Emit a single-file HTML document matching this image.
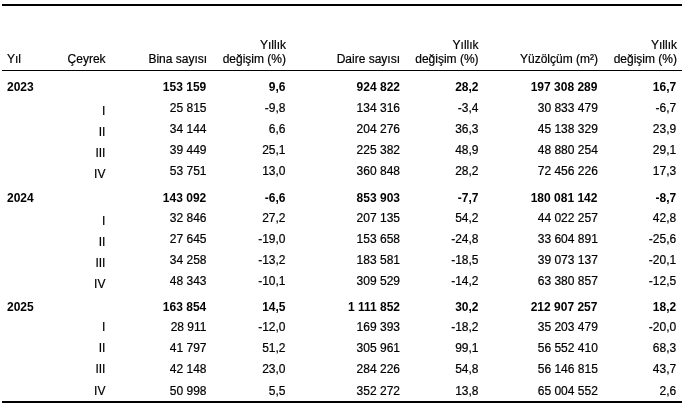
<!DOCTYPE html>
<html><head><meta charset="utf-8"><title>Tablo</title>
<style>
html,body{margin:0;padding:0;background:#fff;}
body{width:683px;height:417px;position:relative;overflow:hidden;font-family:"Liberation Sans",Arial,sans-serif;font-size:12px;color:#000;}
.t{-webkit-text-stroke:0.2px #000;position:absolute;white-space:nowrap;line-height:14px;height:14px;}
.r{text-align:right;}
.b{font-weight:bold;-webkit-text-stroke:0;}
.ln{position:absolute;background:#000;}
</style></head><body>

<div class="ln" style="left:2px;top:4px;width:680px;height:2px"></div>
<div class="ln" style="left:2px;top:70px;width:680px;height:1px"></div>
<div class="ln" style="left:2px;top:401px;width:680px;height:2px"></div>
<div class="t" style="left:7px;top:52px">Yıl</div>
<div class="t" style="left:67.6px;top:52px">Çeyrek</div>
<div class="t r" style="right:475.9px;top:52px">Bina sayısı</div>
<div class="t r" style="right:397px;top:38px">Yıllık</div>
<div class="t r" style="right:397px;top:52px">değişim (%)</div>
<div class="t r" style="right:283px;top:52px">Daire sayısı</div>
<div class="t r" style="right:204.4px;top:38px">Yıllık</div>
<div class="t r" style="right:204.4px;top:52px">değişim (%)</div>
<div class="t r" style="right:85px;top:52px">Yüzölçüm (m²)</div>
<div class="t r" style="right:6px;top:38px">Yıllık</div>
<div class="t r" style="right:6px;top:52px">değişim (%)</div>
<div class="t b" style="left:7px;top:80px">2023</div>
<div class="t b r" style="right:476.75px;top:80px">153 159</div>
<div class="t b r" style="right:397.5px;top:80px">9,6</div>
<div class="t b r" style="right:283px;top:80px">924 822</div>
<div class="t b r" style="right:204.5px;top:80px">28,2</div>
<div class="t b r" style="right:85.6px;top:80px">197 308 289</div>
<div class="t b r" style="right:6.8px;top:80px">16,7</div>
<div class="t r" style="right:577.6px;top:104px">I</div>
<div class="t r" style="right:476.5px;top:101px">25 815</div>
<div class="t r" style="right:397.5px;top:101px">-9,8</div>
<div class="t r" style="right:283px;top:101px">134 316</div>
<div class="t r" style="right:204.5px;top:101px">-3,4</div>
<div class="t r" style="right:85.2px;top:101px">30 833 479</div>
<div class="t r" style="right:6.8px;top:101px">-6,7</div>
<div class="t r" style="right:577.6px;top:125px">II</div>
<div class="t r" style="right:476.5px;top:122px">34 144</div>
<div class="t r" style="right:397.5px;top:122px">6,6</div>
<div class="t r" style="right:283px;top:122px">204 276</div>
<div class="t r" style="right:204.5px;top:122px">36,3</div>
<div class="t r" style="right:85.2px;top:122px">45 138 329</div>
<div class="t r" style="right:6.8px;top:122px">23,9</div>
<div class="t r" style="right:577.6px;top:146px">III</div>
<div class="t r" style="right:476.5px;top:143px">39 449</div>
<div class="t r" style="right:397.5px;top:143px">25,1</div>
<div class="t r" style="right:283px;top:143px">225 382</div>
<div class="t r" style="right:204.5px;top:143px">48,9</div>
<div class="t r" style="right:85.2px;top:143px">48 880 254</div>
<div class="t r" style="right:6.8px;top:143px">29,1</div>
<div class="t r" style="right:577.6px;top:167px">IV</div>
<div class="t r" style="right:476.5px;top:164px">53 751</div>
<div class="t r" style="right:397.5px;top:164px">13,0</div>
<div class="t r" style="right:283px;top:164px">360 848</div>
<div class="t r" style="right:204.5px;top:164px">28,2</div>
<div class="t r" style="right:85.2px;top:164px">72 456 226</div>
<div class="t r" style="right:6.8px;top:164px">17,3</div>
<div class="t b" style="left:7px;top:191px">2024</div>
<div class="t b r" style="right:476.75px;top:191px">143 092</div>
<div class="t b r" style="right:397.5px;top:191px">-6,6</div>
<div class="t b r" style="right:283px;top:191px">853 903</div>
<div class="t b r" style="right:204.5px;top:191px">-7,7</div>
<div class="t b r" style="right:85.6px;top:191px">180 081 142</div>
<div class="t b r" style="right:6.8px;top:191px">-8,7</div>
<div class="t r" style="right:577.6px;top:214px">I</div>
<div class="t r" style="right:476.5px;top:211px">32 846</div>
<div class="t r" style="right:397.5px;top:211px">27,2</div>
<div class="t r" style="right:283px;top:211px">207 135</div>
<div class="t r" style="right:204.5px;top:211px">54,2</div>
<div class="t r" style="right:85.2px;top:211px">44 022 257</div>
<div class="t r" style="right:6.8px;top:211px">42,8</div>
<div class="t r" style="right:577.6px;top:235px">II</div>
<div class="t r" style="right:476.5px;top:232px">27 645</div>
<div class="t r" style="right:397.5px;top:232px">-19,0</div>
<div class="t r" style="right:283px;top:232px">153 658</div>
<div class="t r" style="right:204.5px;top:232px">-24,8</div>
<div class="t r" style="right:85.2px;top:232px">33 604 891</div>
<div class="t r" style="right:6.8px;top:232px">-25,6</div>
<div class="t r" style="right:577.6px;top:256px">III</div>
<div class="t r" style="right:476.5px;top:253px">34 258</div>
<div class="t r" style="right:397.5px;top:253px">-13,2</div>
<div class="t r" style="right:283px;top:253px">183 581</div>
<div class="t r" style="right:204.5px;top:253px">-18,5</div>
<div class="t r" style="right:85.2px;top:253px">39 073 137</div>
<div class="t r" style="right:6.8px;top:253px">-20,1</div>
<div class="t r" style="right:577.6px;top:277px">IV</div>
<div class="t r" style="right:476.5px;top:274px">48 343</div>
<div class="t r" style="right:397.5px;top:274px">-10,1</div>
<div class="t r" style="right:283px;top:274px">309 529</div>
<div class="t r" style="right:204.5px;top:274px">-14,2</div>
<div class="t r" style="right:85.2px;top:274px">63 380 857</div>
<div class="t r" style="right:6.8px;top:274px">-12,5</div>
<div class="t b" style="left:7px;top:300px">2025</div>
<div class="t b r" style="right:476.75px;top:300px">163 854</div>
<div class="t b r" style="right:397.5px;top:300px">14,5</div>
<div class="t b r" style="right:283px;top:300px">1 111 852</div>
<div class="t b r" style="right:204.5px;top:300px">30,2</div>
<div class="t b r" style="right:85.6px;top:300px">212 907 257</div>
<div class="t b r" style="right:6.8px;top:300px">18,2</div>
<div class="t r" style="right:577.6px;top:320px">I</div>
<div class="t r" style="right:476.5px;top:320px">28 911</div>
<div class="t r" style="right:397.5px;top:320px">-12,0</div>
<div class="t r" style="right:283px;top:320px">169 393</div>
<div class="t r" style="right:204.5px;top:320px">-18,2</div>
<div class="t r" style="right:85.2px;top:320px">35 203 479</div>
<div class="t r" style="right:6.8px;top:320px">-20,0</div>
<div class="t r" style="right:577.6px;top:341px">II</div>
<div class="t r" style="right:476.5px;top:341px">41 797</div>
<div class="t r" style="right:397.5px;top:341px">51,2</div>
<div class="t r" style="right:283px;top:341px">305 961</div>
<div class="t r" style="right:204.5px;top:341px">99,1</div>
<div class="t r" style="right:85.2px;top:341px">56 552 410</div>
<div class="t r" style="right:6.8px;top:341px">68,3</div>
<div class="t r" style="right:577.6px;top:362px">III</div>
<div class="t r" style="right:476.5px;top:362px">42 148</div>
<div class="t r" style="right:397.5px;top:362px">23,0</div>
<div class="t r" style="right:283px;top:362px">284 226</div>
<div class="t r" style="right:204.5px;top:362px">54,8</div>
<div class="t r" style="right:85.2px;top:362px">56 146 815</div>
<div class="t r" style="right:6.8px;top:362px">43,7</div>
<div class="t r" style="right:577.6px;top:384px">IV</div>
<div class="t r" style="right:476.5px;top:384px">50 998</div>
<div class="t r" style="right:397.5px;top:384px">5,5</div>
<div class="t r" style="right:283px;top:384px">352 272</div>
<div class="t r" style="right:204.5px;top:384px">13,8</div>
<div class="t r" style="right:85.2px;top:384px">65 004 552</div>
<div class="t r" style="right:6.8px;top:384px">2,6</div>
</body></html>
